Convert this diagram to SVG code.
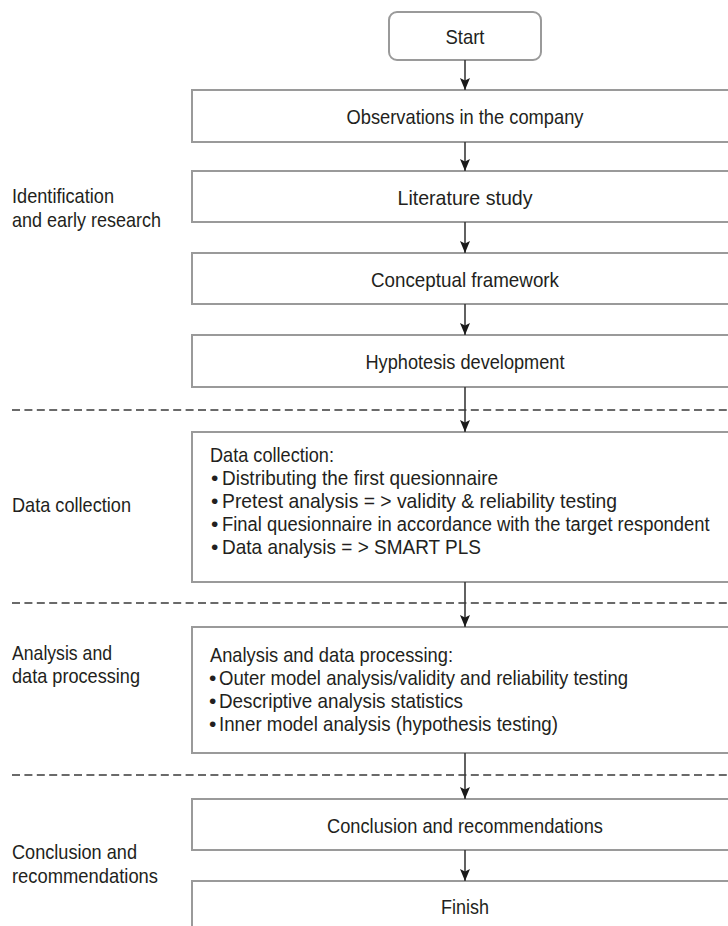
<svg xmlns="http://www.w3.org/2000/svg" width="728" height="926" viewBox="0 0 728 926">
<defs>
<style>
.box{fill:#fff;stroke:#9a9a9a;stroke-width:2}
.t{font-family:"Liberation Sans Narrow","Liberation Sans",Arial,sans-serif;font-size:21px;fill:#231f20}
.c{text-anchor:middle}
.conn{stroke:#3a3a3a;stroke-width:1.6;fill:none;marker-end:url(#ah)}
.dash{stroke:#3a3a3a;stroke-width:1.3;stroke-dasharray:8 4.4;fill:none}
</style>
<marker id="ah" markerUnits="userSpaceOnUse" markerWidth="12" markerHeight="13" viewBox="0 0 12 13" refX="12" refY="6.5" orient="auto">
<path d="M0,1.5 L12,6.5 L0,11.5 L2.5,6.5 Z" fill="#1a1a1a"/>
</marker>
</defs>
<rect width="728" height="926" fill="#fff"/>

<g id="separators">
<line class="dash" x1="12" y1="410" x2="728" y2="410"/>
<line class="dash" x1="12" y1="603" x2="728" y2="603"/>
<line class="dash" x1="12" y1="775" x2="728" y2="775"/>
</g>

<g id="phase-labels">
<text class="t" x="12" y="203" textLength="102" lengthAdjust="spacingAndGlyphs">Identification</text>
<text class="t" x="12" y="227" textLength="149" lengthAdjust="spacingAndGlyphs">and early research</text>
<text class="t" x="12" y="512" textLength="119" lengthAdjust="spacingAndGlyphs">Data collection</text>
<text class="t" x="12" y="660" textLength="100" lengthAdjust="spacingAndGlyphs">Analysis and</text>
<text class="t" x="12" y="683" textLength="128" lengthAdjust="spacingAndGlyphs">data processing</text>
<text class="t" x="12" y="859" textLength="125" lengthAdjust="spacingAndGlyphs">Conclusion and</text>
<text class="t" x="12" y="883" textLength="146" lengthAdjust="spacingAndGlyphs">recommendations</text>
</g>

<g id="start">
<rect class="box" x="389" y="12" width="152" height="48" rx="8"/>
<text class="t c" x="465" y="43.5" textLength="39" lengthAdjust="spacingAndGlyphs">Start</text>
</g>
<g id="observations">
<rect class="box" x="192" y="90" width="546" height="52"/>
<text class="t c" x="465" y="123.5" textLength="237" lengthAdjust="spacingAndGlyphs">Observations in the company</text>
</g>
<g id="literature">
<rect class="box" x="192" y="171" width="546" height="51"/>
<text class="t c" x="465" y="204.5" textLength="135" lengthAdjust="spacingAndGlyphs">Literature study</text>
</g>
<g id="conceptual">
<rect class="box" x="192" y="253" width="546" height="51"/>
<text class="t c" x="465" y="286.5" textLength="188" lengthAdjust="spacingAndGlyphs">Conceptual framework</text>
</g>
<g id="hypothesis">
<rect class="box" x="192" y="335" width="546" height="52"/>
<text class="t c" x="465" y="368.5" textLength="199" lengthAdjust="spacingAndGlyphs">Hyphotesis development</text>
</g>
<g id="data-collection">
<rect class="box" x="192" y="432" width="546" height="150"/>
<text class="t" x="210" y="461.5" textLength="124" lengthAdjust="spacingAndGlyphs">Data collection:</text>
<text class="t" x="211" y="484.5">•</text>
<text class="t" x="222" y="484.5" textLength="276" lengthAdjust="spacingAndGlyphs">Distributing the first quesionnaire</text>
<text class="t" x="211" y="507.5">•</text>
<text class="t" x="222" y="507.5" textLength="395" lengthAdjust="spacingAndGlyphs">Pretest analysis = &gt; validity &amp; reliability testing</text>
<text class="t" x="211" y="530.5">•</text>
<text class="t" transform="translate(222 530.5) scale(0.876 1)" x="0" y="0">Final quesionnaire in accordance with the target respondent</text>
<text class="t" x="211" y="553.5">•</text>
<text class="t" x="222" y="553.5" textLength="259" lengthAdjust="spacingAndGlyphs">Data analysis = &gt; SMART PLS</text>
</g>
<g id="analysis">
<rect class="box" x="192" y="627" width="546" height="126"/>
<text class="t" x="210" y="661.5" textLength="243" lengthAdjust="spacingAndGlyphs">Analysis and data processing:</text>
<text class="t" x="209" y="684.5">•</text>
<text class="t" x="219" y="684.5" textLength="409" lengthAdjust="spacingAndGlyphs">Outer model analysis/validity and reliability testing</text>
<text class="t" x="209" y="707.5">•</text>
<text class="t" x="219" y="707.5" textLength="244" lengthAdjust="spacingAndGlyphs">Descriptive analysis statistics</text>
<text class="t" x="209" y="730.5">•</text>
<text class="t" x="219" y="730.5" textLength="339" lengthAdjust="spacingAndGlyphs">Inner model analysis (hypothesis testing)</text>
</g>
<g id="conclusion">
<rect class="box" x="192" y="799" width="546" height="51"/>
<text class="t c" x="465" y="832.5" textLength="276" lengthAdjust="spacingAndGlyphs">Conclusion and recommendations</text>
</g>
<g id="finish">
<rect class="box" x="192" y="881" width="546" height="60"/>
<text class="t c" x="465" y="913.5" textLength="48" lengthAdjust="spacingAndGlyphs">Finish</text>
</g>

<g id="connectors">
<line class="conn" x1="465" y1="60" x2="465" y2="90"/>
<line class="conn" x1="465" y1="142" x2="465" y2="171"/>
<line class="conn" x1="465" y1="222" x2="465" y2="253"/>
<line class="conn" x1="465" y1="304" x2="465" y2="335"/>
<line class="conn" x1="465" y1="387" x2="465" y2="432"/>
<line class="conn" x1="465" y1="582" x2="465" y2="627"/>
<line class="conn" x1="465" y1="753" x2="465" y2="799"/>
<line class="conn" x1="465" y1="850" x2="465" y2="881"/>
</g>
</svg>
